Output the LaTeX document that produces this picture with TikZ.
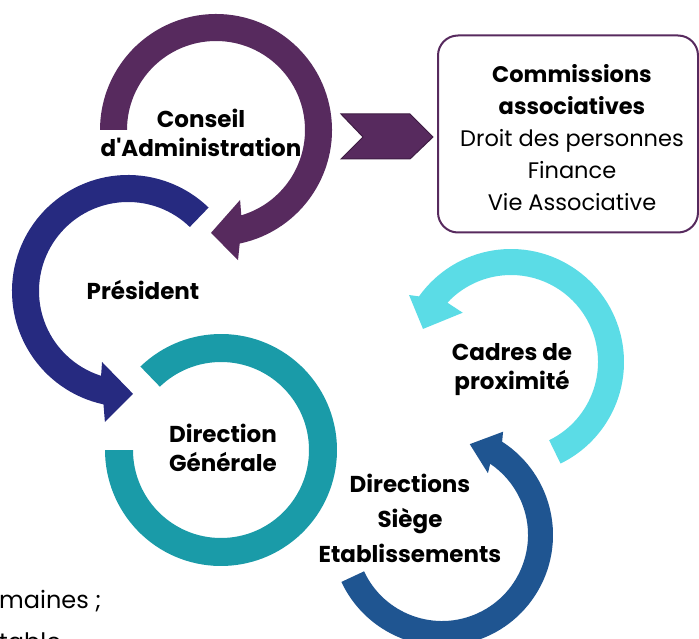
\documentclass[tikz,border=0pt]{standalone}
\usepackage{fontspec}
\setmainfont{Poppins}[Ligatures=TeXOff]
\usetikzlibrary{positioning}
\definecolor{conseil}{HTML}{572A5E}
\definecolor{president}{HTML}{262A80}
\definecolor{dirgen}{HTML}{1A9BA8}
\definecolor{cadres}{HTML}{5BDCE6}
\definecolor{dirsiege}{HTML}{1F5591}
\definecolor{chevline}{HTML}{3E1D43}
\tikzset{title/.style={font=\bfseries\fontsize{23}{29}\selectfont, align=center, inner sep=0pt},
         item/.style={font=\fontsize{22.5}{32}\selectfont, align=center, inner sep=0pt},
         comm/.style={draw=conseil, line width=2pt, rounded corners=20pt, minimum width=260pt, minimum height=197pt},
        }

\begin{document}
\begin{tikzpicture}[x=1pt,y=1pt]
        \useasboundingbox(0,0)rectangle(699,638);
        \clip(0,0)rectangle(699,638);

        \begin{scope}[shift={(216,508)}]
            \fill[conseil](180:89pt)arc[start angle=180, end angle=-73.5, radius=89pt]
                --(-71:74pt)--(-92.8:103pt)--(-80.4:132pt)--(-78.2:116pt)
                arc[start angle=-78.2, end angle=180, radius=116pt]--cycle;
        \end{scope}
        \begin{scope}[shift={(128,347)}]
            \fill[president](46:89pt)arc[start angle=46, end angle=252.4, radius=89pt]
                --(249.9:75.6pt)--(272.8:103pt)--(260:133pt)--(257.8:116pt)
                arc[start angle=257.8, end angle=46, radius=116pt]--cycle;
        \end{scope}
        \begin{scope}[shift={(221,188)}]
            \fill[dirgen](134:116pt)arc[start angle=134, end angle=-180, radius=116pt]
                --(180:88pt)arc[start angle=-180, end angle=134, radius=88pt]--cycle;
        \end{scope}
        \begin{scope}[shift={(511,276)}]
            \fill[cadres](-64:87pt)arc[start angle=-64, end angle=137, radius=87pt]
                --(134.4:69pt)--(159.4:94pt)--(146.7:122pt)--(144.5:113pt)
                arc[start angle=144.5, end angle=-64, radius=113pt]--cycle;
        \end{scope}
        \begin{scope}[shift={(442,103)}]
            \fill[dirsiege](-155:86pt)arc[start angle=-155, end angle=55.9, radius=86pt]
                --(53.4:77pt)--(73:95pt)--(59.4:120pt)--(57.2:111pt)
                arc[start angle=57.2, end angle=-155, radius=111pt]--cycle;
        \end{scope}

        \fill[conseil, draw=chevline, line width=1pt](341,524)--(410,524)--(433,501)--(410,479)--(341,479)--(363,501)--cycle;
        \node[comm](com)at(568,504){};
        \node[item](comtxt)at(572,500){\textbf{Commissions}\\\textbf{associatives}\\Droit des personnes\\Finance\\Vie Associative};

        \node[title](ca)at(201,505){Conseil\\d'Administration};
        \node[title](pres)at(143,348){Président};
        \node[title](dg)at(223,190){Direction\\Générale};
        \node[title](cp)at(512,268){Cadres de\\proximité};
        \node[title, font=\bfseries\fontsize{23}{35}\selectfont](ds)at(410,120){Directions\\Siège\\Etablissements};

        \node[anchor=base west, font=\fontsize{24}{34}\selectfont, inner sep=0pt](rh1)at(-1,30){maines ;};
        \node[anchor=base west, font=\fontsize{24}{34}\selectfont, inner sep=0pt](rh2)at(-1,-12){table};
    \end{tikzpicture}
\end{document}
